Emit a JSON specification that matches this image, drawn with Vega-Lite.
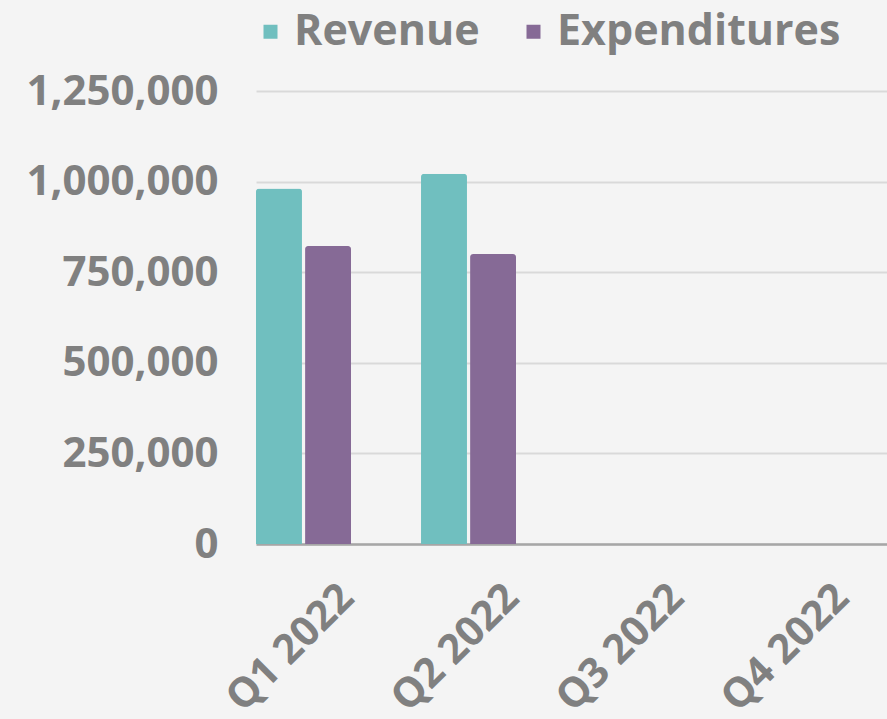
{
  "$schema": "https://vega.github.io/schema/vega-lite/v6.json",
  "width": 631,
  "height": 453,
  "autosize": {"type": "none"},
  "padding": {"left": 256, "top": 91, "right": 0, "bottom": 175},
  "background": "#f4f4f4",
  "data": {
    "values": [
      {"quarter": "Q1 2022", "series": "Revenue", "value": 981000},
      {"quarter": "Q1 2022", "series": "Expenditures", "value": 822000},
      {"quarter": "Q2 2022", "series": "Revenue", "value": 1022000},
      {"quarter": "Q2 2022", "series": "Expenditures", "value": 800000}
    ]
  },
  "mark": {"type": "bar", "cornerRadiusEnd": 3},
  "encoding": {
    "x": {
      "field": "quarter",
      "type": "nominal",
      "sort": null,
      "scale": {"domain": ["Q1 2022", "Q2 2022", "Q3 2022", "Q4 2022"], "paddingInner": 0.424, "paddingOuter": 0.124, "align": 0},
      "axis": {
        "title": null,
        "labelAngle": -45,
        "labelAlign": "right",
        "labelBaseline": "top",
        "labelOffset": 30,
        "labelPadding": 33,
        "labelLimit": 400,
        "ticks": false,
        "domainColor": "#a6a6a6",
        "domainWidth": 2.5,
        "labelFont": "Open Sans",
        "labelFontWeight": "bold",
        "labelFontSize": 41,
        "labelColor": "#808080"
      }
    },
    "xOffset": {"field": "series", "sort": null, "scale": {"domain": ["Revenue", "Expenditures"], "paddingInner": 0.063}},
    "y": {
      "field": "value",
      "type": "quantitative",
      "scale": {"domain": [0, 1250000]},
      "axis": {
        "title": null,
        "values": [0, 250000, 500000, 750000, 1000000, 1250000],
        "format": ",.0f",
        "grid": true,
        "gridColor": "#d9d9d9",
        "gridWidth": 2,
        "domain": false,
        "ticks": false,
        "labelPadding": 38,
        "labelLimit": 400,
        "labelFont": "Open Sans",
        "labelFontWeight": "bold",
        "labelFontSize": 42,
        "labelColor": "#808080"
      }
    },
    "color": {
      "field": "series",
      "type": "nominal",
      "sort": null,
      "scale": {"domain": ["Revenue", "Expenditures"], "range": ["#70bfbf", "#866a96"]},
      "legend": {
        "title": null,
        "orient": "none",
        "direction": "horizontal",
        "legendX": -7,
        "legendY": -81,
        "symbolType": "square",
        "symbolSize": 196,
        "symbolStrokeWidth": 0,
        "labelOffset": 2,
        "labelLimit": 400,
        "columnPadding": 32,
        "labelFont": "Open Sans",
        "labelFontWeight": "bold",
        "labelFontSize": 43,
        "labelColor": "#808080"
      }
    }
  },
  "config": {"view": {"stroke": null}}
}
